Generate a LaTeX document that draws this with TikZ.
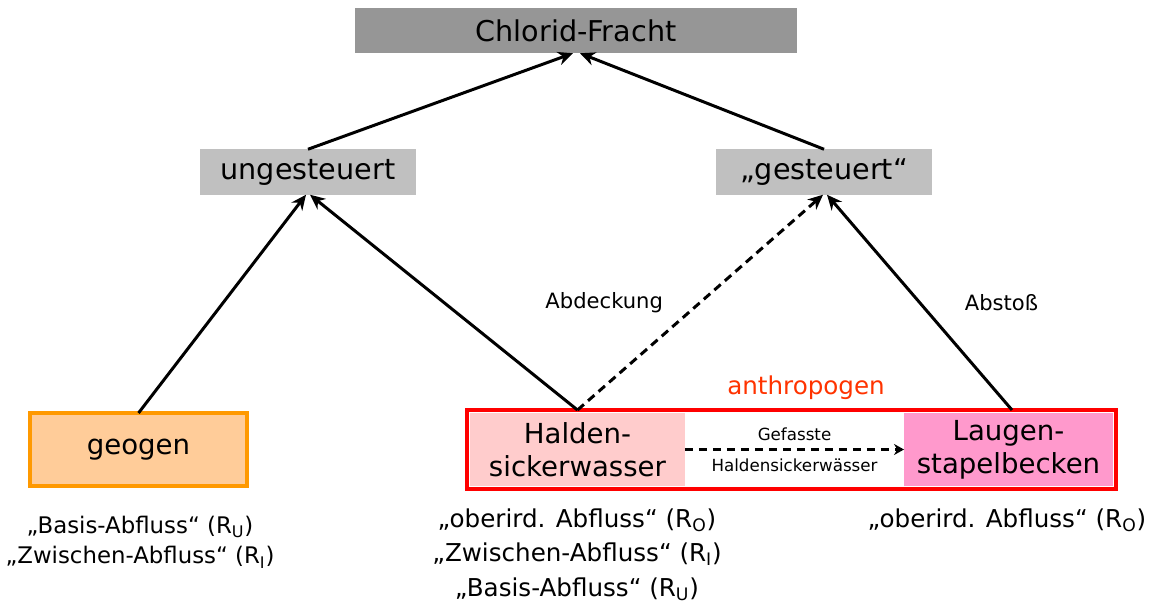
\documentclass[tikz,border=0pt]{standalone}
\usepackage{fontspec}
\setmainfont{DejaVu Sans}
\usetikzlibrary{positioning, arrows.meta}

\definecolor{topgray}{HTML}{969696}
\definecolor{midgray}{HTML}{C0C0C0}
\definecolor{geofill}{HTML}{FFCC99}
\definecolor{geoline}{HTML}{FF9900}
\definecolor{hsfill}{HTML}{FFCCCC}
\definecolor{lbfill}{HTML}{FF99CC}
\definecolor{anthro}{HTML}{FF3300}

\begin{document}
\begin{tikzpicture}[x=0.02cm, y=-0.02cm]
	\tikzstyle{head}=[inner sep=0pt, outer sep=0pt, minimum height=0.91cm, font=\fontsize{16.3}{19}\selectfont];
	\tikzstyle{src}=[inner sep=0pt, outer sep=0pt, minimum height=1.46cm, align=center, font=\fontsize{15.7}{18.8}\selectfont];
	\tikzstyle{flow}=[align=center, font=\fontsize{14}{17.8}\selectfont];
	\tikzstyle{lbl}=[font=\fontsize{12}{14}\selectfont];
	\tikzstyle{arr}=[-{Stealth[length=0.3cm, width=0.27cm]}, line width=1.7pt];
	\tikzstyle{dashline}=[dash pattern=on 0.17cm off 0.11cm];

	\useasboundingbox (0,0) rectangle (1155,605);

	\node[fill=topgray, minimum width=8.84cm] (top) at (576,30.5) [head] {Chlorid-Fracht};
	\node[fill=midgray, minimum width=4.32cm] (unge) at (308,172) [head] {ungesteuert};
	\node[fill=midgray, minimum width=4.32cm] (gest) at (824,172) [head] {„gesteuert“};

	\node[fill=geofill, draw=geoline, line width=1.8pt, minimum width=4.34cm] (geo) at (138.5,449.5) [src] {geogen};
	\node[fill=hsfill, minimum width=4.3cm] (hs) at (577.5,449.5) [src] {Halden-\\sickerwasser};
	\node[fill=lbfill, minimum width=4.18cm] (lb) at (1008.5,449.5) [src] {Laugen-\\stapelbecken};
	\node[draw=red, line width=2pt, inner sep=0pt, outer sep=0pt, minimum width=12.98cm, minimum height=1.58cm] (frame) at (791.5,449.5) {};
	\node[text=anthro, font=\fontsize{14}{17}\selectfont] (anth) at (806,388) {anthropogen};

	\node (geoflow) at (140,542) [flow, font=\fontsize{13}{17.6}\selectfont] {„Basis-Abfluss“ (R\textsubscript{U})\\„Zwischen-Abfluss“ (R\textsubscript{I})};
	\node (hsflow) at (577,554.5) [flow, font=\fontsize{14}{19.6}\selectfont] {„oberird. Abfluss“ (R\textsubscript{O})\\„Zwischen-Abfluss“ (R\textsubscript{I})\\„Basis-Abfluss“ (R\textsubscript{U})};
	\node (lbflow) at (1007,520) [flow] {„oberird. Abfluss“ (R\textsubscript{O})};

	\draw (unge.north) edge[arr] ([xshift=-0.06cm]top.south);
	\draw (gest.north) edge[arr] ([xshift=0.08cm]top.south);
	\draw (geo.north) edge[arr] ([xshift=-0.04cm]unge.south);
	\draw (hs.north |- frame.north) edge[arr] ([xshift=0.04cm]unge.south);
	\draw (hs.north |- frame.north) edge[arr, dashline] node[left=0.6cm, lbl] {Abdeckung} ([xshift=-0.02cm]gest.south);
	\draw ([xshift=0.07cm]lb.north |- frame.north) edge[arr] node[right=0.76cm, lbl] {Abstoß} ([xshift=0.06cm]gest.south);
	\draw (hs.east) edge[-{Stealth[length=0.2cm, width=0.22cm]}, line width=1.4pt, dashline] node[above=1pt, font=\fontsize{9.5}{11}\selectfont] {Gefasste} node[below=1pt, font=\fontsize{9.5}{11}\selectfont] {Haldensickerwässer} (lb.west);
\end{tikzpicture}
\end{document}
